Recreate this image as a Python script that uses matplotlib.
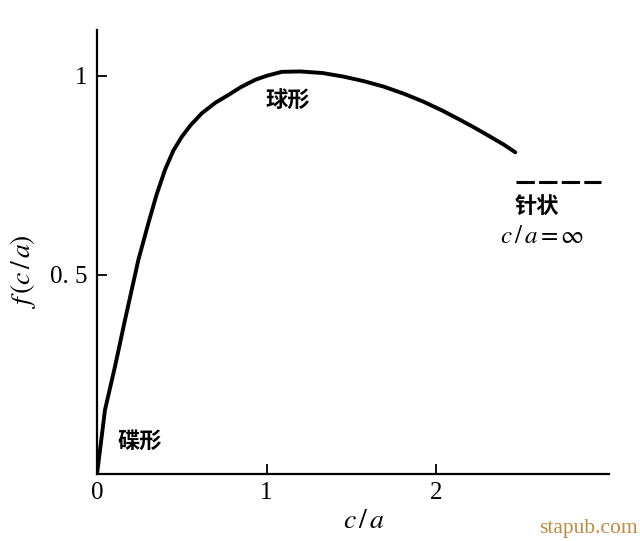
import matplotlib.pyplot as plt

plt.rcParams['font.family'] = ['Liberation Serif', 'DejaVu Serif']
plt.rcParams['mathtext.fontset'] = 'stix'

# curve f(c/a)
ratio = [0.0, 0.047, 0.106, 0.165, 0.244, 0.303, 0.35, 0.401, 0.45, 0.500, 0.55,
         0.618, 0.70, 0.775, 0.85, 0.933, 1.0, 1.09, 1.198, 1.33, 1.454, 1.57,
         1.69, 1.81, 1.926, 2.04, 2.143, 2.23, 2.32, 2.40, 2.467]
f_val = [0.0, 0.161, 0.270, 0.387, 0.538, 0.630, 0.700, 0.764, 0.812, 0.847, 0.875,
         0.906, 0.933, 0.952, 0.972, 0.990, 1.000, 1.010, 1.011, 1.007, 0.998, 0.987,
         0.973, 0.955, 0.935, 0.912, 0.889, 0.869, 0.847, 0.827, 0.808]

# limit for needle shape, c/a = inf
needle_x = [2.47, 2.97]
needle_y = [0.734, 0.734]

fig = plt.figure(figsize=(6.4, 5.41), dpi=100)
ax = fig.add_axes([0.1516, 0.1238, 0.8, 0.8207])

ax.plot(ratio, f_val, color='black', lw=2.8, solid_capstyle='round', solid_joinstyle='round')
ax.plot(needle_x, needle_y, color='black', lw=2.2, dashes=(6, 1.4))

ax.set_xlim(0, 3.02)
ax.set_ylim(0, 1.115)
ax.spines['top'].set_visible(False)
ax.spines['right'].set_visible(False)
ax.spines['left'].set_linewidth(1.6)
ax.spines['bottom'].set_linewidth(1.6)

ax.set_xticks([0, 1, 2])
ax.set_xticklabels(['0', '1', '2'])
ax.set_yticks([0.5, 1])
ax.set_yticklabels(['0. 5', '1'])
ax.tick_params(direction='in', length=7, width=1.3, labelsize=18)
ax.tick_params(axis='x', pad=6)
ax.tick_params(axis='y', pad=7)

ax.set_xlabel('$c\\,/\\,a$', fontsize=20)
ax.xaxis.set_label_coords(0.521, -0.078)
ax.set_ylabel('$f\\,(c\\,/\\,a)$', fontsize=20)
ax.yaxis.set_label_coords(-0.115, 0.455)

cjk = ['Noto Sans CJK SC', 'DejaVu Sans']
ax.text(1.128, 0.935, '球形', family=cjk, fontsize=16, fontweight='bold', ha='center', va='center')
ax.text(0.254, 0.081, '碟形', family=cjk, fontsize=16, fontweight='bold', ha='center', va='center')
ax.text(2.596, 0.672, '针状', family=cjk, fontsize=16, fontweight='bold', ha='center', va='center')
ax.text(2.625, 0.596, '$c\\,/\\,a=\\infty$', fontsize=18, ha='center', va='center')

fig.text(0.997, 0.005, 'stapub.com', color='#bf8a42', fontsize=15.5, ha='right', va='bottom')

fig.savefig('out.png', dpi=100)
